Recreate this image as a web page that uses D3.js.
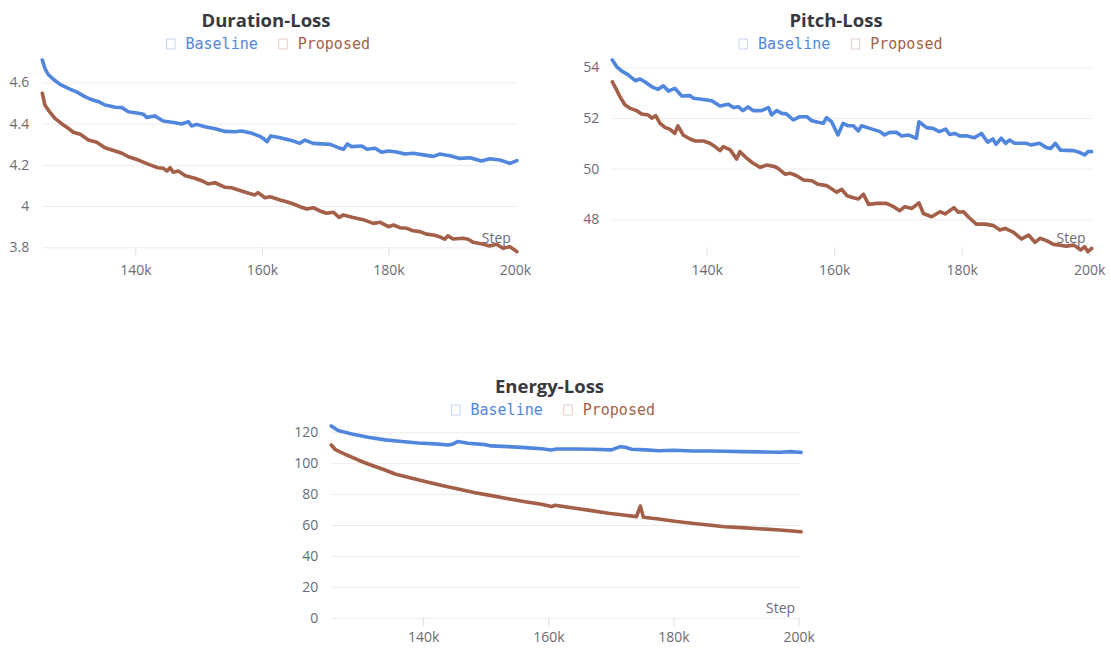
<!DOCTYPE html>
<html>
<head>
<meta charset="utf-8">
<script src="https://cdn.jsdelivr.net/npm/d3@7"></script>
<style>
  body { margin: 0; background: #fff; }
  svg { display: block; }
</style>
</head>
<body>
<svg id="chart" width="1111" height="648"></svg>
<script>
// ---- Data (steps in thousands) ----
const seriesNames = ["Baseline", "Proposed"];

// Duration-Loss
const durBaseSteps = [125.3,125.7,126.2,127.0,128.1,129.4,130.7,131.8,132.8,134.2,135.2,136.0,136.8,137.9,138.9,140.5,141.3,141.8,143.1,144.4,146.3,147.3,148.4,148.9,149.7,151.0,152.6,154.2,155.8,156.8,158.4,159.7,160.2,160.8,161.4,162.9,165.0,166.0,166.8,168.1,170.8,172.1,172.9,173.5,174.2,175.8,176.6,177.9,178.9,180.0,181.3,182.6,183.9,185.5,187.1,188.1,189.7,191.3,192.9,194.7,196.0,197.6,199.2,200.3];
const durBaseVals  = [4.708,4.668,4.639,4.616,4.590,4.571,4.554,4.534,4.519,4.506,4.490,4.485,4.479,4.477,4.457,4.450,4.445,4.430,4.437,4.412,4.404,4.398,4.409,4.388,4.396,4.385,4.375,4.362,4.360,4.364,4.353,4.338,4.328,4.312,4.340,4.331,4.315,4.304,4.320,4.304,4.299,4.283,4.275,4.301,4.288,4.291,4.275,4.280,4.261,4.267,4.262,4.252,4.256,4.248,4.241,4.252,4.244,4.231,4.234,4.218,4.229,4.223,4.207,4.220];
const durPropSteps = [125.3,125.7,126.5,127.3,128.4,129.4,130.2,131.3,132.6,133.9,135.2,136.3,137.9,138.9,140.5,142.1,143.6,144.4,145.0,145.5,146.0,146.8,147.9,149.4,150.5,151.5,152.6,154.2,155.2,156.3,157.9,158.9,159.4,160.5,161.3,162.9,163.9,165.0,166.0,167.1,168.1,169.2,170.2,171.3,172.2,172.9,174.4,176.0,177.6,178.7,180.0,180.8,181.8,182.9,183.9,185.0,186.0,187.1,188.1,188.9,189.4,190.2,191.8,192.6,193.4,195.0,196.0,197.1,198.1,199.2,200.3];
const durPropVals  = [4.547,4.490,4.455,4.425,4.398,4.377,4.358,4.348,4.320,4.309,4.283,4.272,4.256,4.239,4.223,4.202,4.186,4.183,4.170,4.186,4.164,4.170,4.147,4.135,4.123,4.107,4.113,4.091,4.089,4.078,4.062,4.054,4.065,4.040,4.045,4.029,4.021,4.010,3.997,3.986,3.992,3.976,3.965,3.970,3.945,3.957,3.945,3.934,3.916,3.921,3.900,3.908,3.895,3.892,3.880,3.876,3.864,3.860,3.851,3.839,3.856,3.840,3.844,3.839,3.824,3.815,3.806,3.815,3.795,3.803,3.779];
const durTicks = [3.8, 4.0, 4.2, 4.4, 4.6];

// Pitch-Loss
const pitBaseSteps = [125.2,125.9,126.7,127.7,128.8,129.5,130.3,131.4,132.4,133.2,134.0,135.0,136.1,137.4,137.9,139.2,140.8,142.1,143.4,144.2,145.0,145.7,146.5,147.3,148.6,149.7,150.2,151.0,151.8,152.5,153.6,154.6,155.7,156.5,157.5,158.3,158.8,159.6,160.6,161.4,162.2,163.0,163.8,164.3,165.6,167.2,167.9,168.7,169.8,170.6,171.6,172.9,173.3,174.5,175.5,176.5,177.5,178.1,178.9,179.7,180.7,182.0,183.1,184.1,184.9,185.4,186.2,186.9,187.5,188.3,190.2,190.9,192.2,193.3,194.0,194.7,195.5,197.6,198.4,199.3,199.8,200.4];
const pitBaseVals  = [54.29,54.02,53.85,53.70,53.47,53.54,53.43,53.23,53.13,53.27,53.06,53.17,52.87,52.88,52.78,52.74,52.68,52.47,52.54,52.41,52.44,52.29,52.44,52.29,52.29,52.41,52.12,52.29,52.18,52.16,51.92,52.05,52.05,51.89,51.83,51.79,52.01,51.85,51.33,51.79,51.69,51.69,51.49,51.69,51.59,51.46,51.33,51.43,51.43,51.29,51.33,51.20,51.85,51.62,51.59,51.46,51.56,51.35,51.39,51.29,51.30,51.22,51.39,51.04,51.17,50.96,51.20,51.00,51.13,51.00,51.00,50.93,51.00,50.83,50.80,51.00,50.73,50.71,50.65,50.54,50.67,50.67];
const pitPropSteps = [125.2,125.9,126.4,127.2,128.0,129.0,129.8,130.8,131.4,132.0,132.7,133.5,134.2,135.0,135.5,136.3,137.4,138.2,139.5,140.5,141.3,142.1,142.6,143.7,144.7,145.2,146.3,147.3,148.4,149.4,150.7,151.2,152.3,153.1,154.1,155.2,156.5,157.5,158.8,160.4,161.2,162.0,163.0,163.8,164.6,165.4,166.7,168.2,169.3,170.3,171.1,172.2,173.3,174.0,175.3,176.6,177.4,178.8,179.5,180.3,181.1,182.3,183.7,185.0,186.0,186.8,188.1,189.4,190.5,191.5,192.3,193.4,194.4,195.4,196.4,197.6,198.7,199.3,199.8,200.4];
const pitPropVals  = [53.43,53.10,52.84,52.51,52.38,52.29,52.16,52.12,51.99,52.09,51.79,51.62,51.56,51.39,51.69,51.33,51.17,51.09,51.09,51.00,50.87,50.71,50.87,50.74,50.38,50.67,50.41,50.21,50.05,50.14,50.08,50.01,49.78,49.82,49.72,49.55,49.52,49.38,49.33,49.07,49.18,48.93,48.85,48.80,48.99,48.59,48.63,48.63,48.50,48.34,48.50,48.43,48.65,48.23,48.10,48.30,48.21,48.46,48.28,48.30,48.08,47.81,47.81,47.75,47.58,47.64,47.49,47.22,47.38,47.09,47.25,47.15,47.01,46.98,46.94,46.98,46.79,46.92,46.72,46.85];
const pitTicks = [48, 50, 52, 54];

// Energy-Loss
const enBaseSteps = [125.3,126.4,128.6,131.2,133.9,136.6,139.2,141.9,144.0,144.8,145.5,147.2,149.9,150.9,153.6,156.3,158.9,160.5,161.3,164.3,166.9,170.1,171.5,172.3,173.3,175.5,177.6,180.2,182.9,185.6,188.2,190.9,193.6,197.0,198.8,199.6,200.4];
const enBaseVals  = [124.1,121.1,118.9,116.8,115.1,114.0,113.1,112.5,111.8,112.5,114.0,112.9,112.0,111.2,110.7,110.1,109.4,108.6,109.2,109.2,109.0,108.6,110.7,110.3,109.0,108.6,108.1,108.4,107.9,107.9,107.7,107.5,107.3,107.1,107.5,107.2,107.0];
const enPropSteps = [125.3,125.9,127.5,129.6,131.2,133.9,135.5,138.2,140.3,143.0,145.6,148.3,150.9,153.6,156.3,158.9,160.5,161.1,164.3,166.9,169.6,172.3,174.1,174.7,175.2,177.6,180.2,182.9,185.6,188.2,190.9,193.6,197.0,200.4];
const enPropVals  = [111.8,109.0,105.8,102.1,99.5,95.6,93.0,90.3,88.1,85.5,83.3,80.9,79.0,77.0,75.1,73.4,71.9,72.8,70.8,69.3,67.6,66.3,65.4,72.3,65.0,63.9,62.4,61.1,60.0,58.9,58.3,57.6,56.8,55.6];
const enTicks = [0, 20, 40, 60, 80, 100, 120];

const stepTicks = [140, 160, 180, 200];

// ---- Styling ----
const COLORS = { Baseline: "#5087dd", Proposed: "#a45f48" };
const LEGEND_BOX = { Baseline: "#c6d6f4", Proposed: "#e3cdc4" };
const TEXT_GREY = "#6b6b76";
const GRID = "#ededed";

// ---- Panel layout ----
const panels = [
  {
    title: "Duration-Loss",
    xDomain: [125.3, 200.3], xRange: [42.3, 516.9],
    yDomain: [3.8, 4.6], yRange: [247.3, 82.3], yTicks: durTicks, yFmt: d3.format(".1~f"),
    axisY: 247.3, xLabelPad: 9, titleX: 266, titleY: 26.5, legendX: 166, legendY: 44,
    series: [
      { name: "Baseline", steps: durBaseSteps, vals: durBaseVals },
      { name: "Proposed", steps: durPropSteps, vals: durPropVals }
    ]
  },
  {
    title: "Pitch-Loss",
    xDomain: [125.2, 200.4], xRange: [612.3, 1091.7],
    yDomain: [48, 54], yRange: [219.3, 67.3], yTicks: pitTicks, yFmt: d3.format("d"),
    axisY: 247, xLabelPad: 9, titleX: 836, titleY: 26.5, legendX: 738.5, legendY: 44,
    series: [
      { name: "Baseline", steps: pitBaseSteps, vals: pitBaseVals },
      { name: "Proposed", steps: pitPropSteps, vals: pitPropVals }
    ]
  },
  {
    title: "Energy-Loss",
    xDomain: [125.3, 200.4], xRange: [331.2, 801.1],
    yDomain: [0, 120], yRange: [617.7, 432.3], yTicks: enTicks, yFmt: d3.format("d"),
    axisY: 617.7, xLabelPad: 5, titleX: 549.5, titleY: 392.5, legendX: 451, legendY: 410,
    series: [
      { name: "Baseline", steps: enBaseSteps, vals: enBaseVals },
      { name: "Proposed", steps: enPropSteps, vals: enPropVals }
    ]
  }
];

const svg = d3.select("#chart");
svg.append("rect").attr("width", 1111).attr("height", 648).attr("fill", "#fff");

panels.forEach(p => {
  const g = svg.append("g");
  const x = d3.scaleLinear().domain(p.xDomain).range(p.xRange);
  const y = d3.scaleLinear().domain(p.yDomain).range(p.yRange);
  const [xl, xr] = p.xRange;

  // horizontal grid lines + y labels
  const yAxis = g.append("g")
    .attr("transform", `translate(${xl},0)`)
    .call(d3.axisLeft(y).tickValues(p.yTicks).tickFormat(p.yFmt)
      .tickSize(-(xr - xl)).tickPadding(13));
  yAxis.select(".domain").remove();
  yAxis.selectAll(".tick line").attr("stroke", GRID).attr("stroke-width", 1);
  yAxis.selectAll(".tick text")
    .attr("fill", TEXT_GREY).attr("font-family", "'Open Sans', sans-serif").attr("font-size", 14);

  // x ticks
  const xAxis = g.append("g")
    .attr("transform", `translate(0,${p.axisY})`)
    .call(d3.axisBottom(x).tickValues(stepTicks).tickFormat(d => d + "k")
      .tickSize(9).tickPadding(p.xLabelPad));
  xAxis.select(".domain").remove();
  xAxis.selectAll(".tick line").attr("stroke", "#dedede").attr("stroke-width", 1);
  xAxis.selectAll(".tick text")
    .attr("fill", TEXT_GREY).attr("font-family", "'Open Sans', sans-serif").attr("font-size", 14);

  // "Step" axis caption
  g.append("text")
    .attr("x", xr - 6).attr("y", p.axisY - 4.5)
    .attr("text-anchor", "end")
    .attr("fill", TEXT_GREY).attr("font-family", "'Open Sans', sans-serif").attr("font-size", 14)
    .text("Step");

  // lines
  const line = d3.line().x(d => x(d[0])).y(d => y(d[1]));
  p.series.forEach(s => {
    const pts = s.steps.map((st, i) => [st, s.vals[i]]);
    g.append("path")
      .datum(pts)
      .attr("d", line)
      .attr("fill", "none")
      .attr("stroke", COLORS[s.name])
      .attr("stroke-width", 3.6)
      .attr("stroke-linejoin", "round")
      .attr("stroke-linecap", "round");
  });

  // title
  g.append("text")
    .attr("x", p.titleX).attr("y", p.titleY)
    .attr("text-anchor", "middle")
    .attr("fill", "#383840")
    .attr("font-family", "'Open Sans', sans-serif")
    .attr("font-weight", 700).attr("font-size", 18.5)
    .text(p.title);

  // legend
  let lx = p.legendX;
  seriesNames.forEach(name => {
    g.append("rect")
      .attr("x", lx + 0.5).attr("y", p.legendY - 5)
      .attr("width", 8.5).attr("height", 10)
      .attr("fill", "none").attr("stroke", LEGEND_BOX[name]).attr("stroke-width", 1);
    const t = g.append("text")
      .attr("x", lx + 19.5).attr("y", p.legendY + 5.3)
      .attr("fill", COLORS[name])
      .attr("font-family", "'DejaVu Sans Mono', monospace").attr("font-size", 15)
      .text(name);
    lx += 19.5 + t.node().getComputedTextLength() + 20.5;
  });
});
</script>
</body>
</html>
